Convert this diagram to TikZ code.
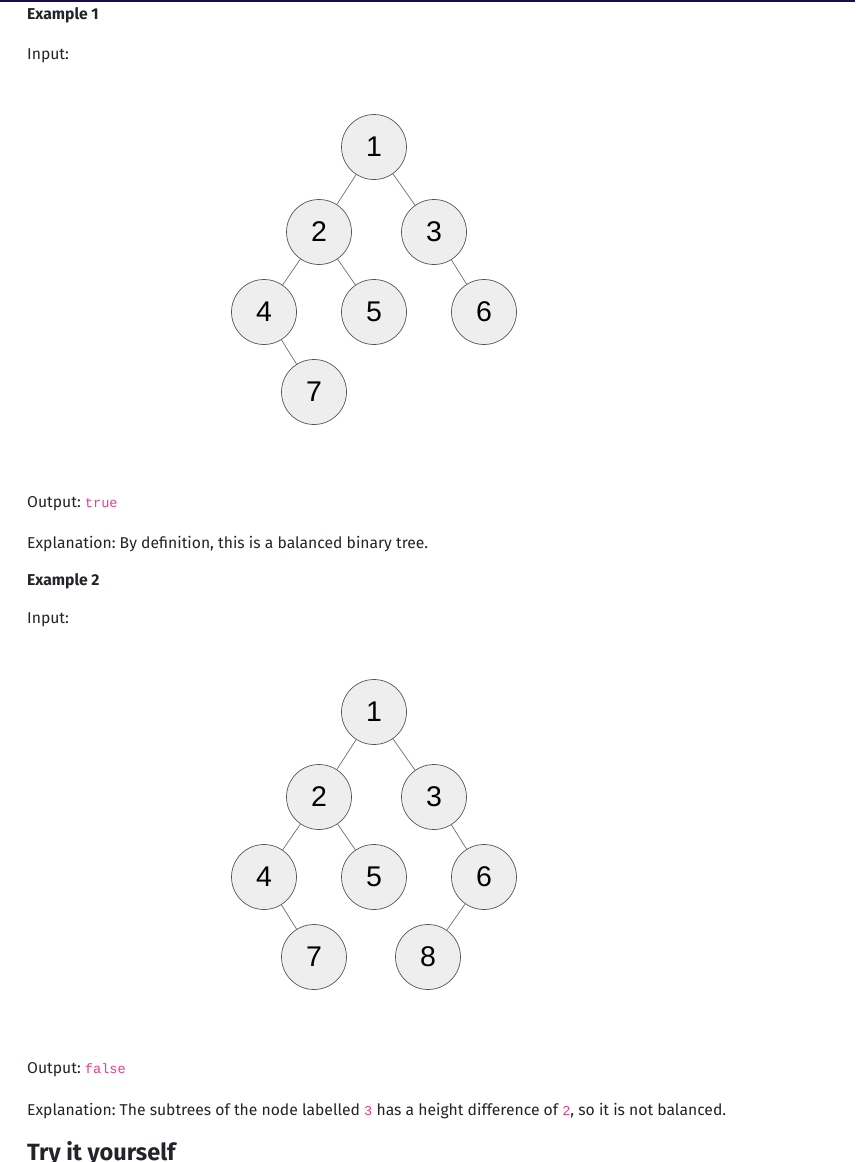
\documentclass[tikz,border=0pt]{standalone}
\usepackage{fontspec}
\usepackage{xcolor}
\setmainfont{Fira Sans}
\newfontfamily\codefont{Liberation Mono}
\newfontfamily\digitfont{Liberation Sans}
\definecolor{topbar}{HTML}{1E0A50}
\definecolor{bodytext}{HTML}{212529}
\definecolor{codepink}{HTML}{E83E8C}
\definecolor{nodefill}{HTML}{EEEEEE}
\definecolor{nodeline}{HTML}{555555}
\definecolor{edgeline}{HTML}{707070}
\newcommand{\code}[1]{{\codefont\fontsize{13.6}{16}\selectfont\color{codepink}#1}}
\frenchspacing

\begin{document}
\begin{tikzpicture}[x=1pt,y=-1pt,
    treenode/.style={circle,draw=nodeline,fill=nodefill,line width=0.7pt,
        minimum size=65pt,inner sep=0pt,font=\digitfont\fontsize{28.5}{30}\selectfont},
    treeedge/.style={draw=edgeline,line width=0.7pt},
    txt/.style={anchor=base west,inner sep=0pt,text=bodytext,
        font=\fontsize{15.7}{19}\selectfont},
    head/.style={txt,font=\fontsize{15.7}{19}\selectfont\bfseries}]
                \useasboundingbox (0,0) rectangle (855,1162);
                \fill[white] (0,0) rectangle (855,1162);
                \fill[topbar] (0,0) rectangle (855,2);
                % example 1
                \node[head] (ex1) at (27,19) {Example 1};
                \node[txt] (in1) at (27,59) {Input:};
                \node[treenode] (a1) at (374,147) {1};
                \node[treenode] (a2) at (319,232) {2};
                \node[treenode] (a3) at (434,232) {3};
                \node[treenode] (a4) at (264,312) {4};
                \node[treenode] (a5) at (374,312) {5};
                \node[treenode] (a6) at (484,312) {6};
                \node[treenode] (a7) at (314,392) {7};
                \draw[treeedge] (a1) -- (a2);
                \draw[treeedge] (a1) -- (a3);
                \draw[treeedge] (a2) -- (a4);
                \draw[treeedge] (a2) -- (a5);
                \draw[treeedge] (a3) -- (a6);
                \draw[treeedge] (a4) -- (a7);
                \node[txt] (out1) at (27,507) {Output: \code{true}};
                \node[txt] (expl1) at (27,548) {Explanation: By definition, this is a balanced binary tree.};
                % example 2
                \node[head] (ex2) at (27,585) {Example 2};
                \node[txt] (in2) at (27,623) {Input:};
                \node[treenode] (b1) at (374,712) {1};
                \node[treenode] (b2) at (319,797) {2};
                \node[treenode] (b3) at (434,797) {3};
                \node[treenode] (b4) at (264,877) {4};
                \node[treenode] (b5) at (374,877) {5};
                \node[treenode] (b6) at (484,877) {6};
                \node[treenode] (b7) at (314,957) {7};
                \node[treenode] (b8) at (428,957) {8};
                \draw[treeedge] (b1) -- (b2);
                \draw[treeedge] (b1) -- (b3);
                \draw[treeedge] (b2) -- (b4);
                \draw[treeedge] (b2) -- (b5);
                \draw[treeedge] (b3) -- (b6);
                \draw[treeedge] (b4) -- (b7);
                \draw[treeedge] (b6) -- (b8);
                \node[txt] (out2) at (27,1073) {Output: \code{false}};
                \node[txt] (expl2) at (27,1115) {Explanation: The subtrees of the node labelled \code{3} has a height difference of \code{2}, so it is not balanced.};
                \node[txt,font=\fontsize{23.5}{28}\selectfont\bfseries] (try) at (27,1160) {Try it yourself};
            \end{tikzpicture}
\end{document}
